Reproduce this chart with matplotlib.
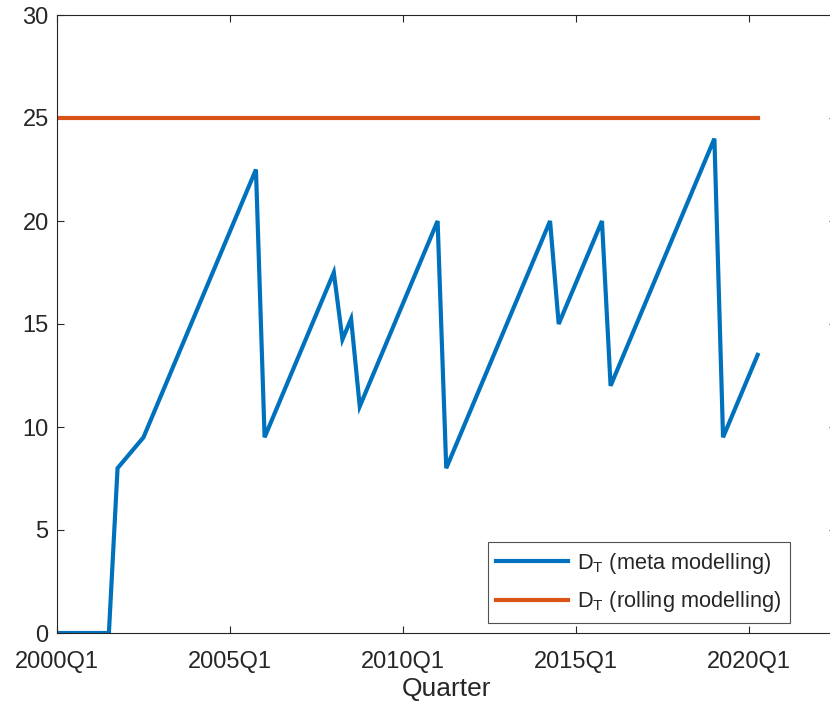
import numpy as np
import matplotlib.pyplot as plt

plt.rcParams['font.family'] = 'Liberation Sans'
plt.rcParams['mathtext.fontset'] = 'custom'
plt.rcParams['mathtext.rm'] = 'Liberation Sans'
plt.rcParams['mathtext.it'] = 'Liberation Sans'

# turning points of the meta modelling window length
meta_quarters = ['2000Q1', '2001Q3', '2001Q4', '2002Q3', '2005Q4', '2006Q1',
                 '2008Q1', '2008Q2', '2008Q3', '2008Q4', '2011Q1', '2011Q2',
                 '2014Q2', '2014Q3', '2015Q4', '2016Q1', '2019Q1', '2019Q2',
                 '2020Q2']
meta_values = [0, 0, 8, 9.5, 22.5, 9.5, 17.5, 14.25, 15.25, 11, 20, 8,
               20, 15, 20, 12, 24, 9.5, 13.5]

rolling_quarters = ['2000Q1', '2020Q2']
rolling_values = [25, 25]

tick_labels = ['2000Q1', '2005Q1', '2010Q1', '2015Q1', '2020Q1']


def q_index(s):
    # quarters since 2000Q1
    return (int(s[:4]) - 2000) * 4 + int(s[-1]) - 1


W, H = 830, 713
fig = plt.figure(figsize=(W / 100, H / 100), dpi=100)
x_max = 90
ax = fig.add_axes([57 / W, (H - 633) / H, x_max * 8.65 / W, 618 / H])

dark = '#262626'
ax.plot([q_index(q) for q in meta_quarters], meta_values, color='#0072BD',
        lw=3, label=r'D$_{\mathrm{T}}$ (meta modelling)', solid_joinstyle='miter')
ax.plot([q_index(q) for q in rolling_quarters], rolling_values, color='#D95319',
        lw=3, label=r'D$_{\mathrm{T}}$ (rolling modelling)')

ax.set_xlim(0, x_max)
ax.set_ylim(0, 30)
ax.set_xticks([q_index(t) for t in tick_labels])
ax.set_xticklabels(tick_labels)
ax.set_yticks(np.arange(0, 31, 5))
ax.tick_params(direction='in', top=True, right=True, length=5, width=0.8,
               colors=dark, labelsize=17, pad=6)
ax.tick_params(axis='x', pad=13)
for sp in ax.spines.values():
    sp.set_color(dark)
    sp.set_linewidth(0.8)
ax.set_xlabel('Quarter', fontsize=19, color=dark, labelpad=3)

leg = ax.legend(loc='lower right', bbox_to_anchor=(790 / W, (H - 623) / H),
                bbox_transform=fig.transFigure, borderaxespad=0, fontsize=15.7,
                fancybox=False, edgecolor=dark, handlelength=3.3,
                labelspacing=0.62, borderpad=0.4, handletextpad=0.4)
leg.get_frame().set_linewidth(0.8)
for t in leg.get_texts():
    t.set_color(dark)

fig.savefig('out.png', dpi=100)
